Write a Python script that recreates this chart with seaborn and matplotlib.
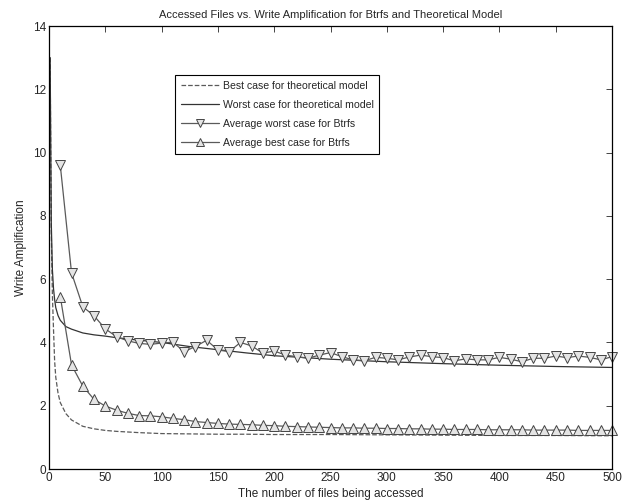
import numpy as np
import pandas as pd
import matplotlib
matplotlib.use('Agg')
import matplotlib.pyplot as plt
import seaborn as sns

# curvas del modelo teórico
x_teo = [1, 2, 3, 4, 5, 6, 8, 10, 15, 20, 30, 40, 50, 60, 80, 100, 125, 150,
         175, 200, 250, 300, 350, 400, 450, 500]
mejor_teo = [13.0, 7.5, 5.5, 4.4, 3.4, 2.9, 2.4, 2.1, 1.75, 1.55, 1.35, 1.27, 1.22,
             1.19, 1.15, 1.12, 1.11, 1.10, 1.10, 1.09, 1.09, 1.08, 1.07, 1.06, 1.06, 1.05]
peor_teo = [13.0, 7.8, 6.3, 5.7, 5.35, 5.1, 4.85, 4.7, 4.5, 4.42, 4.3, 4.24, 4.2,
            4.15, 4.07, 4.0, 3.87, 3.77, 3.67, 3.58, 3.47, 3.39, 3.33, 3.28, 3.24, 3.21]

# medias medidas en Btrfs, cada 10 ficheros
x_btrfs = list(range(10, 501, 10))
peor_btrfs = [9.6, 6.2, 5.13, 4.84, 4.43, 4.18, 4.05, 3.97, 3.94, 3.98,
              4.01, 3.71, 3.87, 4.07, 3.76, 3.71, 4.0, 3.89, 3.66, 3.73,
              3.6, 3.55, 3.5, 3.6, 3.68, 3.55, 3.45, 3.42, 3.53, 3.5,
              3.45, 3.54, 3.6, 3.55, 3.52, 3.42, 3.48, 3.45, 3.45, 3.53,
              3.47, 3.39, 3.5, 3.5, 3.57, 3.52, 3.57, 3.53, 3.45, 3.55]
mejor_btrfs = [5.45, 3.29, 2.62, 2.2, 1.99, 1.86, 1.76, 1.69, 1.68, 1.65,
               1.6, 1.56, 1.5, 1.47, 1.44, 1.42, 1.41, 1.4, 1.38, 1.37,
               1.35, 1.34, 1.33, 1.32, 1.31, 1.3, 1.3, 1.29, 1.29, 1.28,
               1.28, 1.27, 1.27, 1.26, 1.26, 1.25, 1.25, 1.25, 1.24, 1.24,
               1.24, 1.24, 1.23, 1.23, 1.23, 1.23, 1.22, 1.22, 1.22, 1.22]

sns.set_style('white')
plt.rcParams['font.family'] = ['Liberation Sans', 'DejaVu Sans']
plt.rcParams['xtick.direction'] = 'in'
plt.rcParams['ytick.direction'] = 'in'

fig = plt.figure(figsize=(6.26, 5.04), dpi=100)
ax = fig.add_axes([0.0783, 0.0694, 0.8994, 0.8790])

gris = '#5a5a5a'
marcas = dict(markersize=6.5, markerfacecolor='#e4e4e4', markeredgecolor='#444444',
              markeredgewidth=0.7, clip_on=False)
sns.lineplot(x=x_teo, y=mejor_teo, ax=ax, color=gris, linestyle='--', dashes=(7, 5),
             linewidth=0.9, label='Best case for theoretical model', sort=False)
sns.lineplot(x=x_teo, y=peor_teo, ax=ax, color='#333333', linewidth=0.9,
             label='Worst case for theoretical model', sort=False)
sns.lineplot(x=x_btrfs, y=peor_btrfs, ax=ax, color=gris, linewidth=0.9, marker='v',
             label='Average worst case for Btrfs', sort=False, **marcas)
sns.lineplot(x=x_btrfs, y=mejor_btrfs, ax=ax, color=gris, linewidth=0.9, marker='^',
             label='Average best case for Btrfs', sort=False, **marcas)

ax.set_xlim(0, 500)
ax.set_ylim(0, 14)
ax.set_xticks(range(0, 501, 50))
ax.set_yticks(range(0, 15, 2))
ax.tick_params(labelsize=8.5, length=4, width=0.6, top=True, right=True, pad=2)
for s in ax.spines.values():
    s.set_linewidth(0.9)
    s.set_color('black')

ax.set_title('Accessed Files vs. Write Amplification for Btrfs and Theoretical Model',
             fontsize=8, pad=6)
ax.set_xlabel('The number of files being accessed', fontsize=8.5, labelpad=3)
ax.set_ylabel('Write Amplification', fontsize=8.5, labelpad=4)

leg = ax.legend(loc='upper left', bbox_to_anchor=(0.214, 0.901), fontsize=7.6,
                fancybox=False, framealpha=1, edgecolor='black', markerscale=0.85,
                handlelength=3.6, borderpad=0.55, labelspacing=0.85, handletextpad=0.4)
leg.get_frame().set_linewidth(0.8)

fig.savefig('out.png', dpi=100)
